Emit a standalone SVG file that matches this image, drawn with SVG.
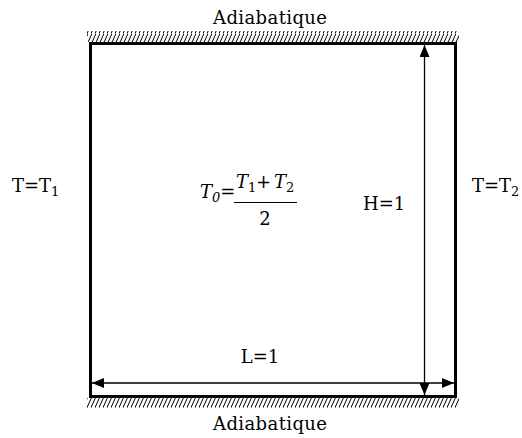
<svg xmlns="http://www.w3.org/2000/svg" width="522" height="438" viewBox="0 0 522 438">
<defs>
<pattern id="hatch" patternUnits="userSpaceOnUse" width="4" height="11">
<line x1="-1" y1="11.5" x2="4.5" y2="-0.5" stroke="#000" stroke-width="1"/>
<line x1="3" y1="11.5" x2="8.5" y2="-0.5" stroke="#000" stroke-width="1"/>
</pattern>
<marker id="arr" viewBox="0 0 12 10" refX="12" refY="5" markerWidth="12" markerHeight="10" markerUnits="userSpaceOnUse" orient="auto-start-reverse">
<path d="M0,0 L12,5 L0,10 Z" fill="#000"/>
</marker>
<style>
text{font-family:"DejaVu Serif","Liberation Serif","Noto Serif",serif;font-size:18px;fill:#000}
.i{font-style:italic}
.s{font-size:13px}
</style>
</defs>
<rect width="522" height="438" fill="#fff"/>
<g id="walls">
<rect x="87" y="31" width="372" height="11" fill="url(#hatch)"/>
<rect x="87" y="398" width="372" height="10" fill="url(#hatch)"/>
<rect x="90.5" y="43.5" width="365" height="353" fill="none" stroke="#000" stroke-width="3"/>
</g>
<g id="connectors" stroke="#000" stroke-width="1.3" fill="none">
<line x1="424.5" y1="45" x2="424.5" y2="395" marker-start="url(#arr)" marker-end="url(#arr)"/>
<line x1="92" y1="383" x2="454" y2="383" marker-start="url(#arr)" marker-end="url(#arr)"/>
</g>
<g id="top-label"><text x="270" y="24" text-anchor="middle" textLength="114">Adiabatique</text></g>
<g id="bottom-label"><text x="270" y="430" text-anchor="middle" textLength="114">Adiabatique</text></g>
<g id="left-label"><text x="12" y="192">T=T<tspan class="s" dy="4">1</tspan></text></g>
<g id="right-label"><text x="472" y="192">T=T<tspan class="s" dy="4">2</tspan></text></g>
<g id="h-label"><text x="363" y="210">H=1</text></g>
<g id="l-label"><text x="260" y="363" text-anchor="middle">L=1</text></g>
<g id="formula">
<text x="200" y="198"><tspan class="i">T</tspan><tspan class="s i" dy="4">0</tspan><tspan dy="-4">=</tspan></text>
<text x="236" y="188"><tspan class="i">T</tspan><tspan class="s" dy="4">1</tspan><tspan x="256" dy="-4">+</tspan><tspan x="274" class="i">T</tspan><tspan class="s" dy="4">2</tspan></text>
<line x1="234" y1="202.5" x2="297" y2="202.5" stroke="#000" stroke-width="1"/>
<text x="265" y="225" text-anchor="middle">2</text>
</g>
</svg>
